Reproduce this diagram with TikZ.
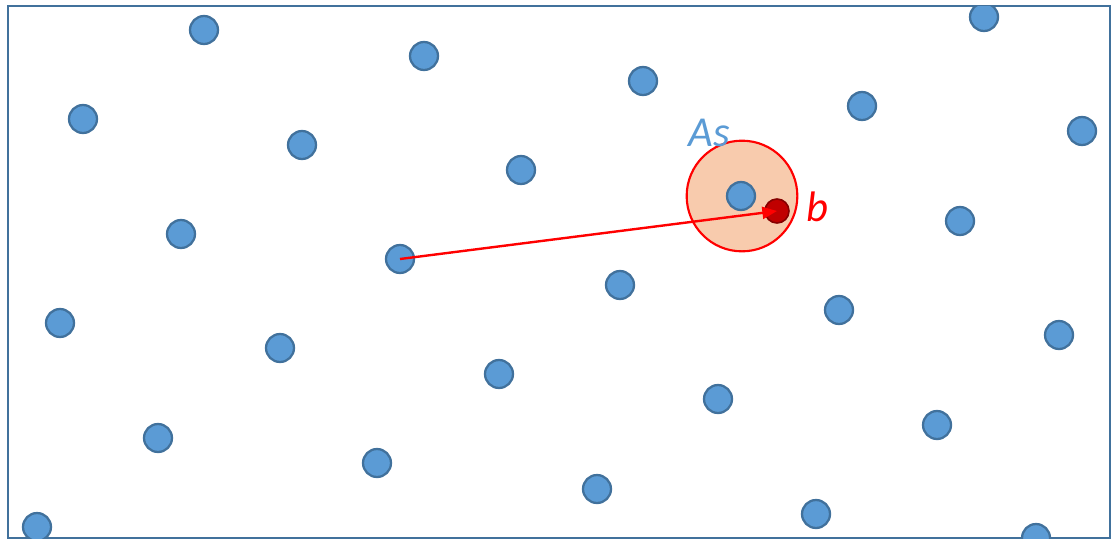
\documentclass[tikz,border=0pt]{standalone}
\usepackage{fontspec}
\setmainfont{Carlito}
\usetikzlibrary{arrows.meta}
\definecolor{dotfill}{HTML}{5B9BD5}
\definecolor{dotline}{HTML}{41719C}
\definecolor{peach}{HTML}{F8CBAD}
\definecolor{darkred}{HTML}{C00000}
\definecolor{redline}{HTML}{FF0000}
\begin{document}
\begin{tikzpicture}[x=0.75pt, y=-0.75pt,
  site/.style={circle, draw=dotline, fill=dotfill, line width=1.7pt, minimum size=21pt, inner sep=0pt},
  target/.style={circle, draw=darkred!70!black, fill=darkred, line width=1.2pt, minimum size=18pt, inner sep=0pt},
  region/.style={circle, draw=redline, fill=peach, line width=1.6pt, minimum size=83pt, inner sep=0pt},
  lab/.style={font=\fontsize{32}{32}\selectfont\itshape, inner sep=0pt, anchor=base}]
\useasboundingbox (0,0) rectangle (1112,540);
\draw[dotline, line width=2pt] (8,6) rectangle (1110,538);
% lattice of sites, clipped to the frame
\begin{scope}
\clip (8,6) rectangle (1110,538);
\foreach \x/\y in {204/30, 424/56, 643/81, 862/106, 984/17, 1082/131,
  83/119, 302/145, 521/170, 960/221,
  181/234, 620/285, 839/310, 1059/335,
  60/323, 280/348, 499/374, 718/399, 937/425,
  158/438, 377/463, 597/489, 816/514, 1036/538, 37/527}
  \node[site] at (\x,\y) {};
\end{scope}
% region around the site As
\node[region] (as) at (742,196) {};
\node[site] (s) at (741,196) {};
\node[site] (a) at (400,259) {};
\node[target] (b) at (777,211) {};
\node[lab, text=dotfill] (aslab) at (709,146) {As};
\node[lab, text=redline] (blab) at (817,221) {b};
\draw[-{Triangle[length=11pt, width=9pt]}, redline, line width=1.8pt] (a.center) -- (b.center);
\end{tikzpicture}
\end{document}
